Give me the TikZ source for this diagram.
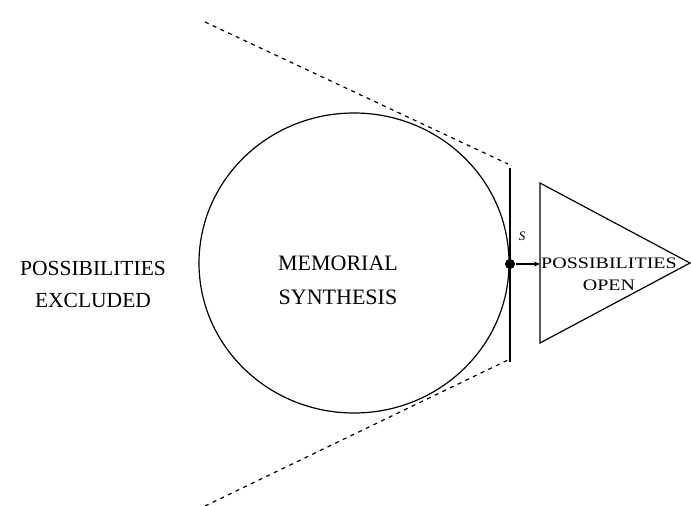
\documentclass[tikz,border=0pt]{standalone}
\usepackage{fontspec}
\setmainfont{Liberation Serif}
\usetikzlibrary{arrows.meta}
\tikzset{tangent/.style={dash pattern=on 4pt off 4.5pt,line width=1.2pt},
lbl/.style={align=center,font=\fontsize{21.5}{32}\selectfont,inner sep=0pt}}
\begin{document}
\begin{tikzpicture}[x=1pt,y=-1pt,>=Stealth,line width=1.2pt]
\useasboundingbox (0,0) rectangle (691,506);
\coordinate (c) at (354,263);
\draw (c) ellipse[x radius=155pt, y radius=150pt];
\coordinate (bt) at (510,168);
\coordinate (bb) at (510,362);
\draw (bt) -- (bb);
\coordinate (u1) at (205,22);
\coordinate (u2) at (508,164);
\coordinate (l1) at (205,506);
\coordinate (l2) at (508,360);
\draw[tangent] (u1) -- (u2);
\draw[tangent] (l1) -- (l2);
\node[circle,fill,inner sep=0pt,minimum size=10pt] (s) at (510,264) {};
\node[font=\fontsize{13}{13}\selectfont\itshape] (slbl) at (522,236) {S};
\coordinate (ta) at (540,183);
\coordinate (tb) at (540,343);
\coordinate (tc) at (690,263);
\coordinate (open) at (540,264);
\draw (ta) -- (tc) -- (tb) -- cycle;
\draw[-{Stealth[length=6pt,width=5pt]}] (s) -- (open);
\node[lbl] (excl) at (93,284) {POSSIBILITIES\\EXCLUDED};
\node[lbl,font=\fontsize{22}{34}\selectfont] (synth) at (338,280) {MEMORIAL\\SYNTHESIS};
\node[lbl,font=\fontsize{16}{22}\selectfont] (poss) at (609,274)
  {\scalebox{1.25}[1]{POSSIBILITIES}\\\scalebox{1.25}[1]{OPEN}};
\end{tikzpicture}
\end{document}
